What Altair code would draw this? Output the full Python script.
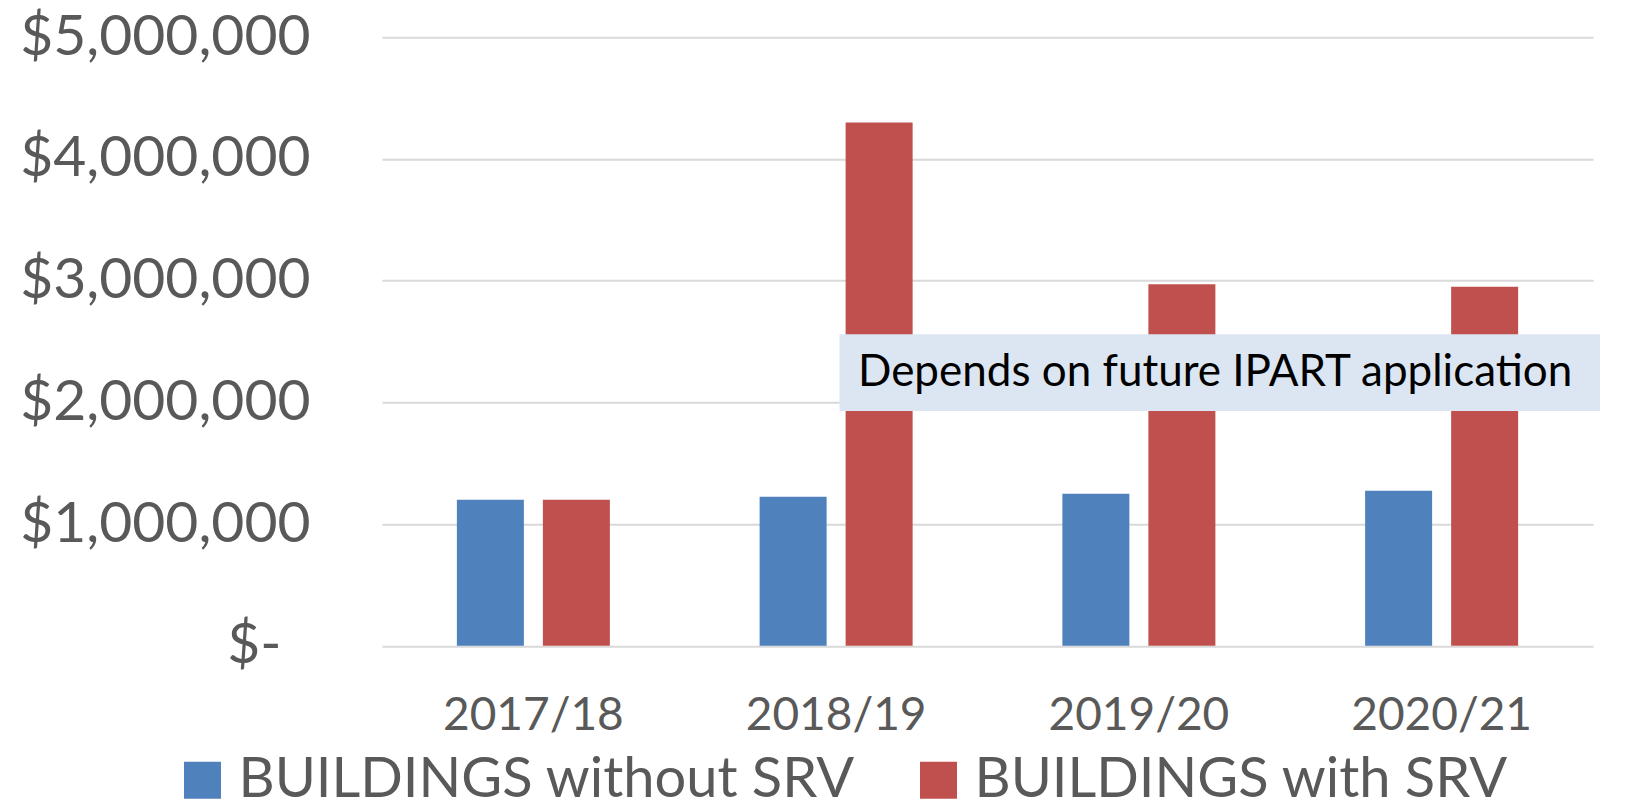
import altair as alt
import pandas as pd

# ---- data ----
years = ["2017/18", "2018/19", "2019/20", "2020/21"]
series = ["BUILDINGS without SRV", "BUILDINGS with SRV"]
without_srv = [1200000, 1224000, 1249000, 1273000]
with_srv = [1200000, 4300000, 2970000, 2950000]
colors = ["#4F81BD", "#C0504D"]
y_ticks = [0, 1000000, 2000000, 3000000, 4000000, 5000000]

annot_text = ["Depends on future IPART application"]
annot_low = [1930000]
annot_high = [2560000]
annot_mid = [2240000]

rows = []
for i, yr in enumerate(years):
    rows.append({"year": yr, "series": series[0], "value": without_srv[i]})
    rows.append({"year": yr, "series": series[1], "value": with_srv[i]})
df = pd.DataFrame(rows)
annot_df = pd.DataFrame({"text": annot_text, "low": annot_low,
                         "high": annot_high, "mid": annot_mid})

FONT = "Lato"
GREY = "#595959"
yscale = alt.Scale(domain=[0, 5000000], nice=False, zero=True)
yaxis = alt.Axis(title=None, values=y_ticks,
                 labelExpr="datum.value == 0 ? '$-' : '$' + format(datum.value, ',')",
                 labelFont=FONT, labelFontSize=57, labelColor=GREY,
                 labelPadding={"condition": {"test": "datum.value === 0", "value": 101},
                               "value": 72},
                 ticks=False, domain=False, labelLimit=0,
                 gridColor="#D9D9D9", gridWidth=2)

bars = alt.Chart(df).mark_bar().encode(
    x=alt.X("year:N", sort=years,
            scale=alt.Scale(paddingInner=0.4946, paddingOuter=0.2473),
            axis=alt.Axis(title=None, labelFont=FONT, labelFontSize=46,
                          labelColor=GREY, labelPadding=48, ticks=False,
                          domain=False, grid=False, labelAngle=0, labelLimit=0)),
    xOffset=alt.XOffset("series:N", sort=series,
                        scale=alt.Scale(paddingInner=0.221, paddingOuter=0)),
    y=alt.Y("value:Q", scale=yscale, axis=yaxis),
    color=alt.Color("series:N", sort=series,
                    scale=alt.Scale(domain=series, range=colors),
                    legend=alt.Legend(title=None, orient="none", legendX=-207.5,
                                      legendY=715, direction="horizontal",
                                      symbolType="square", symbolSize=1369,
                                      symbolStrokeWidth=0, labelFontSize=56,
                                      labelFont=FONT, labelColor=GREY,
                                      labelOffset=8, columnPadding=55,
                                      labelLimit=0, padding=0)),
)

box = alt.Chart(annot_df).mark_rect(color="#DCE6F2").encode(
    x=alt.value(457.5), x2=alt.value(1218),
    y=alt.Y("low:Q", scale=yscale, axis=yaxis), y2="high:Q",
)

txt = alt.Chart(annot_df).mark_text(align="left", baseline="middle", font=FONT,
                                    fontSize=44, color="#000000").encode(
    x=alt.value(476),
    y=alt.Y("mid:Q", scale=yscale, axis=yaxis),
    text="text:N",
)

chart = alt.layer(bars, box, txt).properties(
    width=1211, height=608.5,
    autosize=alt.AutoSizeParams(type="none"),
    padding={"left": 374, "top": 29.3, "right": 28, "bottom": 164},
    background="white",
).configure_view(stroke=None)

chart.save("out.html", embed_options={"renderer": "svg", "actions": False})
